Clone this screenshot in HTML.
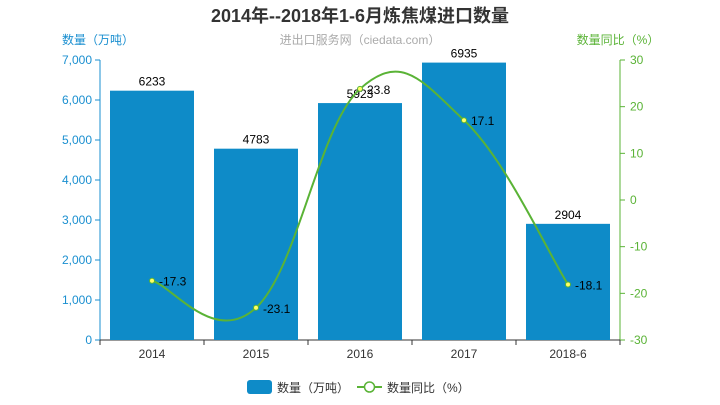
<!DOCTYPE html>
<html><head><meta charset="utf-8">
<style>
body{margin:0;background:#fff;}
svg text{font-family:"Liberation Sans","Noto Sans CJK SC",sans-serif;}
</style></head>
<body>
<svg id="chart" width="720" height="400" xmlns="http://www.w3.org/2000/svg">
<text x="360" y="22" text-anchor="middle" font-size="18" font-weight="bold" fill="#333">2014年--2018年1-6月炼焦煤进口数量</text>
<text x="360" y="44" text-anchor="middle" font-size="12" fill="#aaa">进出口服务网（ciedata.com）</text>
<text x="98" y="44" text-anchor="middle" font-size="12" fill="#1a8fd0">数量（万吨）</text>
<text x="618" y="44" text-anchor="middle" font-size="12" fill="#5ab336">数量同比（%）</text>
<g id="axes"></g>
<g id="bars"></g>
<g id="line"></g>
<g>
<g>
<rect x="247" y="380" width="25" height="14" rx="3" fill="#0e8bc8"/>
<text x="277" y="392" font-size="12" fill="#333">数量（万吨）</text></g>
<g>
<line x1="357" y1="387" x2="382" y2="387" stroke="#5ab336" stroke-width="2"/>
<circle cx="369.5" cy="387" r="5" fill="#fff" stroke="#5ab336" stroke-width="1.5"/>
<text x="387" y="392" font-size="12" fill="#333">数量同比（%）</text></g>
</g>
</svg>
<script>
const categories=["2014","2015","2016","2017","2018-6"];
const quantity=[6233,4783,5923,6935,2904];
const yoy=[-17.3,-23.1,23.8,17.1,-18.1];
const leftTicks=[0,1000,2000,3000,4000,5000,6000,7000];
const rightTicks=[-30,-20,-10,0,10,20,30];
const NS="http://www.w3.org/2000/svg";
const L=100,R=620,T=60,B=340;
const bw=(R-L)/categories.length;
const x=i=>L+bw*(i+0.5);
const yL=v=>B-(v/7000)*(B-T);
const yR=v=>B-((v+30)/60)*(B-T);
function mk(tag,attrs,parent,txt){const e=document.createElementNS(NS,tag);for(const k in attrs)e.setAttribute(k,attrs[k]);if(txt!==undefined)e.textContent=txt;parent.appendChild(e);return e;}
const axes=document.getElementById('axes'),bars=document.getElementById('bars'),line=document.getElementById('line');
const la=mk('line',{x1:L,y1:T,x2:L,y2:B,stroke:'#1a8fd0'},axes);

const ra=mk('line',{x1:R,y1:T,x2:R,y2:B,stroke:'#5ab336'},axes);

const xa=mk('line',{x1:L,y1:B,x2:R,y2:B,stroke:'#333'},axes);

leftTicks.forEach(v=>{mk('line',{x1:L-5,y1:yL(v),x2:L,y2:yL(v),stroke:'#1a8fd0'},axes);
const t=mk('text',{x:L-8,y:yL(v)+4,'text-anchor':'end','font-size':12,fill:'#1a8fd0'},axes,v.toLocaleString('en-US'));
});
rightTicks.forEach(v=>{mk('line',{x1:R,y1:yR(v),x2:R+5,y2:yR(v),stroke:'#5ab336'},axes);
const t=mk('text',{x:R+10,y:yR(v)+4,'font-size':12,fill:'#5ab336'},axes,String(v));
});
for(let i=0;i<=categories.length;i++)mk('line',{x1:L+bw*i,y1:B,x2:L+bw*i,y2:B+5,stroke:'#333'},axes);
categories.forEach((c,i)=>{const t=mk('text',{x:x(i),y:B+18,'text-anchor':'middle','font-size':12,fill:'#333'},axes,c);
});
quantity.forEach((v,i)=>{const r=mk('rect',{x:x(i)-42,y:yL(v),width:84,height:B-yL(v),fill:'#0e8bc8'},bars);

const t=mk('text',{x:x(i),y:yL(v)-5,'text-anchor':'middle','font-size':12,fill:'#000'},bars,String(v));
});
const pts=yoy.map((v,i)=>[x(i),yR(v)]);
let d='M'+pts[0][0]+','+pts[0][1];
for(let i=0;i<pts.length-1;i++){const p0=pts[Math.max(0,i-1)],p1=pts[i],p2=pts[i+1],p3=pts[Math.min(pts.length-1,i+2)];const k=0.2;
d+=' C'+(p1[0]+(p2[0]-p0[0])*k)+','+(p1[1]+(p2[1]-p0[1])*k)+' '+(p2[0]-(p3[0]-p1[0])*k)+','+(p2[1]-(p3[1]-p1[1])*k)+' '+p2[0]+','+p2[1];}
const pth=mk('path',{d:d,fill:'none',stroke:'#5ab336','stroke-width':2},line);

pts.forEach((p,i)=>{const c=mk('circle',{cx:p[0],cy:p[1],r:2.5,fill:'#ffff66',stroke:'#5ab336','stroke-width':1},line);

const t=mk('text',{x:p[0]+7,y:p[1]+5,'font-size':12,fill:'#000'},line,String(yoy[i]));
});
</script>
</body></html>
